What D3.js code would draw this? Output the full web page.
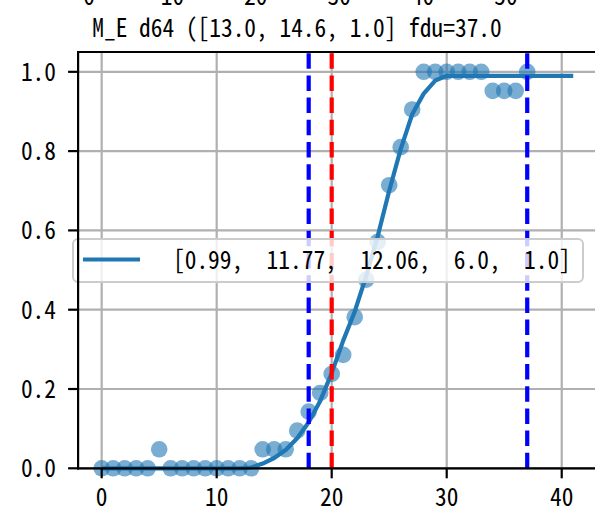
<!DOCTYPE html>
<html><head><meta charset="utf-8">
<script src="https://cdn.jsdelivr.net/npm/d3@7"></script>
<style>
html,body{margin:0;padding:0;background:#fff;}
svg{display:block;}
text{font-family:'Noto Sans Mono CJK JP','Liberation Mono',monospace;fill:#000;}
</style></head>
<body><svg id="c" width="595" height="520"></svg>
<script>
// ---- data ----
const pointX = [0,1,2,3,4,5,6,7,8,9,10,11,12,13,14,15,16,17,18,19,20,21,22,23,24,25,26,27,28,29,30,31,32,33,34,35,36,37];
const pointY = [0,0,0,0,0,0.048,0,0,0,0,0,0,0,0,0.048,0.048,0.048,0.095,0.143,0.19,0.238,0.286,0.381,0.476,0.571,0.714,0.81,0.905,1,1,1,1,1,1,0.952,0.952,0.952,1];
const fitX = [0,1,2,3,4,5,6,7,8,9,10,11,12,13,14,15,16,17,18,19,20,21,22,23,24,25,26,27,28,29,30,31,32,33,34,35,36,37,38,39,40,41];
const fitY = [0,0,0,0,0,0,0,0,0,0,0,0,0,0.002,0.012,0.026,0.046,0.076,0.116,0.17,0.24,0.322,0.395,0.485,0.585,0.70,0.805,0.893,0.945,0.978,0.99,0.99,0.99,0.99,0.99,0.99,0.99,0.99,0.99,0.99,0.99,0.99];
const vLinesBlue = [18, 37];
const vLinesRed = [20];
const xTicks = [0,10,20,30,40];
const yTicks = [0.0,0.2,0.4,0.6,0.8,1.0];
const topTicks = [0,10,20,30,40,50];
const titleText = "M_E d64 ([13.0, 14.6, 1.0] fdu=37.0";
const legendText = "[0.99,  11.77,  12.06,  6.0,  1.0]";

// ---- layout ----
const svg = d3.select("#c");
const FS = 25.5, PITCH = 11.7;
const L = 78.1, R = 596.8, T = 52, B = 468.3;
const x = d3.scaleLinear().domain([-2.05, 43.05]).range([L, R]);
const y = d3.scaleLinear().domain([0, 1.05]).range([B, T]);
const xTop = d3.scaleLinear().domain([0, 50]).range([89, 506]);

function fit(sel){
  sel.attr("font-size", FS).attr("lengthAdjust","spacingAndGlyphs")
     .attr("textLength", function(){ return this.textContent.length * PITCH; });
}

// cropped labels of the panel above
svg.append("g").selectAll("text").data(topTicks).join("text")
  .attr("x", d => xTop(d)).attr("y", 5).attr("text-anchor","middle")
  .text(d => d).call(fit);

// title
svg.append("text").attr("x", 297).attr("y", 36.5).attr("text-anchor","middle")
  .attr("xml:space","preserve").text(titleText).call(fit);

// grid
const grid = svg.append("g").attr("stroke","#b0b0b0").attr("stroke-width",2.2);
grid.selectAll("line.gx").data(xTicks).join("line").attr("class","gx")
  .attr("x1", d=>x(d)).attr("x2", d=>x(d)).attr("y1", T).attr("y2", B);
grid.selectAll("line.gy").data(yTicks).join("line").attr("class","gy")
  .attr("x1", L).attr("x2", R).attr("y1", d=>y(d)).attr("y2", d=>y(d));

// scatter
svg.append("g").selectAll("circle").data(pointX).join("circle")
  .attr("cx", (d,i)=>x(d)).attr("cy", (d,i)=>y(pointY[i])).attr("r", 8.3)
  .attr("fill","#1f77b4").attr("fill-opacity",0.6);

// fit line
const line = d3.line().x((d,i)=>x(d)).y((d,i)=>y(fitY[i]));
svg.append("path").datum(fitX).attr("d", line).attr("fill","none")
  .attr("stroke","#1f77b4").attr("stroke-width",4.2).attr("stroke-linejoin","round");

// vertical dashed lines
function vline(v, col){
  svg.append("line").attr("x1", x(v)).attr("x2", x(v)).attr("y1", B).attr("y2", T)
    .attr("stroke", col).attr("stroke-width", 4.2).attr("stroke-dasharray","15.5,6.7");
}
vLinesBlue.forEach(v=>vline(v,"#0000ff"));
vLinesRed.forEach(v=>vline(v,"#ff0000"));

// legend
const lg = svg.append("g");
lg.append("rect").attr("x",73).attr("y",239).attr("width",510).attr("height",43)
  .attr("rx",5).attr("fill","#fff").attr("fill-opacity",0.8)
  .attr("stroke","#cccccc").attr("stroke-width",2);
lg.append("line").attr("x1",83).attr("x2",140).attr("y1",259.5).attr("y2",259.5)
  .attr("stroke","#1f77b4").attr("stroke-width",4.2);
lg.append("text").attr("x",173).attr("y",268.5)
  .attr("xml:space","preserve").text(legendText).call(fit);

// axes (spines + ticks)
const ax = svg.append("g").attr("stroke","#000").attr("stroke-width",2.2);
ax.append("line").attr("x1",L).attr("x2",L).attr("y1",T).attr("y2",B+1.1);
ax.append("line").attr("x1",L-1.1).attr("x2",R).attr("y1",B).attr("y2",B);
ax.append("line").attr("x1",L-1.1).attr("x2",R).attr("y1",T).attr("y2",T);
ax.selectAll("line.tx").data(xTicks).join("line").attr("class","tx")
  .attr("x1",d=>x(d)).attr("x2",d=>x(d)).attr("y1",B).attr("y2",B+10);
ax.selectAll("line.ty").data(yTicks).join("line").attr("class","ty")
  .attr("x1",L-10).attr("x2",L).attr("y1",d=>y(d)).attr("y2",d=>y(d));

svg.append("g").selectAll("text").data(xTicks).join("text")
  .attr("x",d=>x(d)).attr("y",506).attr("text-anchor","middle")
  .text(d=>d).call(fit);
svg.append("g").selectAll("text").data(yTicks).join("text")
  .attr("x",56).attr("y",d=>y(d)+9).attr("text-anchor","end")
  .text(d=>d.toFixed(1)).call(fit);
</script></body></html>
